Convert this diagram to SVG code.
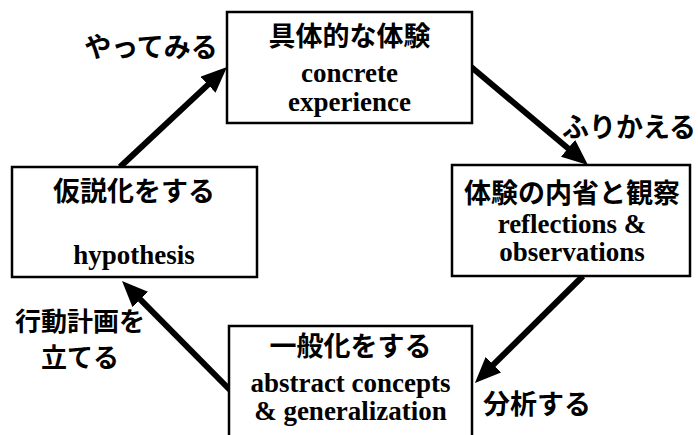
<svg xmlns="http://www.w3.org/2000/svg" width="698" height="435" viewBox="0 0 698 435">
<style>
.box{fill:#fff;stroke:#000;stroke-width:2.5}
.jp{font-family:"Noto Sans CJK JP","Noto Sans",sans-serif;font-weight:bold;font-size:27px;fill:#000;text-anchor:middle}
.en{font-family:"Liberation Serif",serif;font-weight:bold;font-size:27px;fill:#000;text-anchor:middle}
.arr{stroke:#000;stroke-width:6;fill:none;marker-end:url(#ah)}
</style>
<defs>
<marker id="ah" markerUnits="userSpaceOnUse" markerWidth="26" markerHeight="22" refX="10" refY="11" orient="auto" viewBox="0 0 26 22">
<path d="M0,0 L26,11 L0,22 z" fill="#000"/>
</marker>
</defs>
<rect width="698" height="435" fill="#fff"/>
<g id="connectors">
<line class="arr" x1="120" y1="167" x2="215.3" y2="77.9"/>
<line class="arr" x1="470" y1="66" x2="575.7" y2="154.7"/>
<line class="arr" x1="583" y1="276" x2="486.3" y2="371.7"/>
<line class="arr" x1="231" y1="391" x2="133.3" y2="292.4"/>
</g>
<g id="concrete">
<rect class="box" x="227" y="12" width="245" height="111"/>
<text class="jp" x="349.5" y="46">具体的な体験</text>
<text class="en" x="349.5" y="82">concrete</text>
<text class="en" x="349.5" y="111">experience</text>
</g>
<g id="reflection">
<rect class="box" x="452" y="165" width="238" height="111"/>
<text class="jp" x="572" y="203">体験の内省と観察</text>
<text class="en" x="572" y="233">reflections &amp;</text>
<text class="en" x="572" y="261">observations</text>
</g>
<g id="abstract">
<rect class="box" x="229" y="326" width="243" height="120"/>
<text class="jp" x="350.5" y="356">一般化をする</text>
<text class="en" x="350.5" y="392">abstract concepts</text>
<text class="en" x="350.5" y="420">&amp; generalization</text>
</g>
<g id="hypothesis">
<rect class="box" x="12" y="167" width="245" height="110"/>
<text class="jp" x="134" y="201">仮説化をする</text>
<text class="en" x="134" y="264">hypothesis</text>
</g>
<g id="labels">
<text class="jp" x="151" y="57">やってみる</text>
<text class="jp" x="629" y="137">ふりかえる</text>
<text class="jp" x="537" y="414">分析する</text>
<text class="jp" x="80" y="331" style="font-size:26px">行動計画を</text>
<text class="jp" x="80" y="367" style="font-size:26px">立てる</text>
</g>
</svg>
